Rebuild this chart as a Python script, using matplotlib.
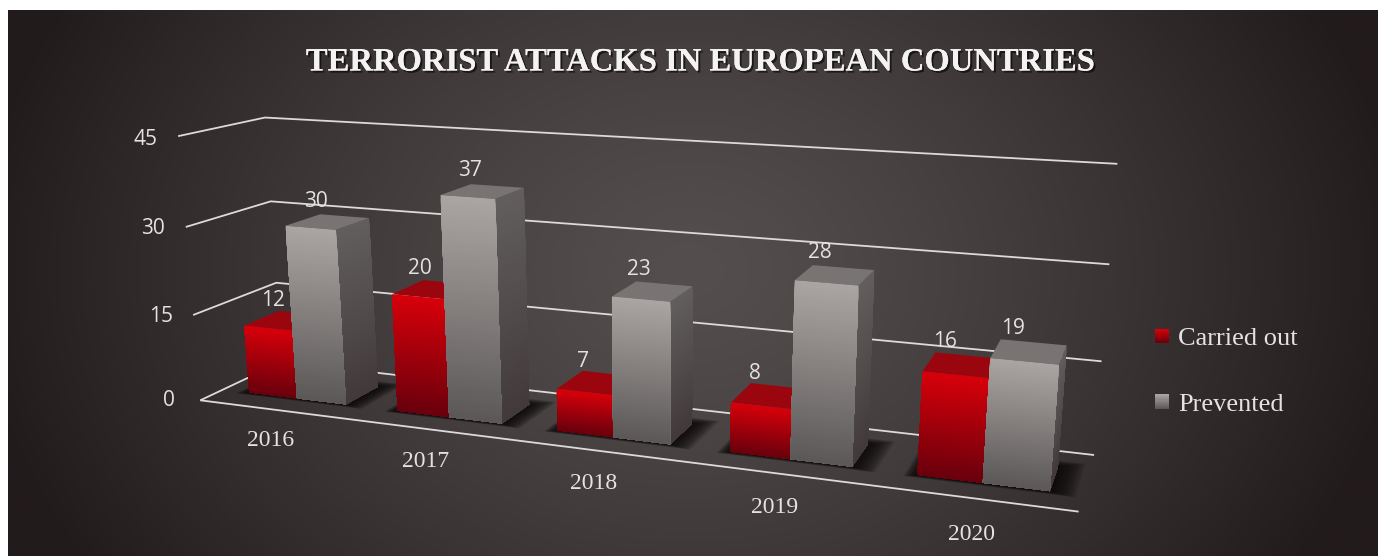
import numpy as np
import matplotlib
matplotlib.use("Agg")
import matplotlib.pyplot as plt
import matplotlib.patheffects as pe
from matplotlib.patches import Rectangle
from matplotlib.legend_handler import HandlerBase
from mpl_toolkits.mplot3d import proj3d
from mpl_toolkits.mplot3d.art3d import Poly3DCollection, Line3DCollection

years = ["2016", "2017", "2018", "2019", "2020"]
carried_out = [12, 20, 7, 8, 16]
prevented = [30, 37, 23, 28, 19]
value_ticks = [0, 15, 30, 45]

W, H = 1378, 556
SERIF = "Liberation Serif"
SANS = "Open Sans"
TXT = "#e4e2e2"

fig = plt.figure(figsize=(W / 100, H / 100), dpi=100, facecolor="white")

# background: radial gradient
bg = fig.add_axes([8 / W, 0, (W - 8) / W, (H - 10) / H])
bg.set_axis_off()
gx, gy = np.meshgrid(np.linspace(8, W, 400), np.linspace(10, H, 200))
rad = np.sqrt(((gx - 690) / 720) ** 2 + ((gy - 270) / 560) ** 2)
rad = np.clip(rad, 0, 1)[..., None] ** 1.3
c0, c1 = np.array([84, 78, 78]) / 255, np.array([34, 27, 28]) / 255
bg.imshow(c0 * (1 - rad) + c1 * rad, aspect="auto", interpolation="bilinear")

# 3D axes, square physical box that spans the figure width
ax = fig.add_axes([0, -(W - H) / 2 / H, 1, W / H], projection="3d", computed_zorder=False)
ax.set_axis_off()
ax.patch.set_alpha(0)
ax.set_autoscale_on(False)
ax.set_xlim(0, 5); ax.set_ylim(0, 1); ax.set_zlim(0, 45)
ax.apply_aspect()

# camera calibrated against the chart frame (category, depth, value) -> pixel
calib = [
    ((0, 0, 0), (200, 400)), ((5, 0, 0), (1079, 511)),
    ((0, 0, 15), (193, 315)), ((0, 0, 30), (186, 227)), ((0, 0, 45), (178, 137)),
    ((0, 1, 0), (282, 362)), ((0, 1, 15), (276, 283)), ((0, 1, 30), (271, 201)), ((0, 1, 45), (265, 117)),
    ((5, 1, 0), (1094, 455)), ((5, 1, 15), (1101, 362)), ((5, 1, 30), (1110, 265)), ((5, 1, 45), (1117, 163)),
]
inv = ax.transData.inverted()
rows = []
for (x, y, z), (u, v) in calib:
    a, b = inv.transform((u, H - v))
    rows.append([x, y, z, 1, 0, 0, 0, 0, -a * x, -a * y, -a * z, -a])
    rows.append([0, 0, 0, 0, x, y, z, 1, -b * x, -b * y, -b * z, -b])
scale = np.array([1 / 5, 1, 1 / 45, 1])
A = np.array(rows)
A[:, :4] *= scale; A[:, 4:8] *= scale; A[:, 8:] *= scale
P = np.linalg.svd(A)[2][-1].reshape(3, 4) * scale
P /= P[2, 3]
M = np.vstack([P[0], P[1], [0, 0, 0, 1], P[2]])
ax.get_proj = lambda: M

Y0, Y1 = 0.27, 0.70
LINE = "#dcdada"


def grad(top, bottom, n):
    t = np.linspace(0, 1, n)[..., None]
    return (np.array(top) * (1 - t) + np.array(bottom) * t) / 255


def add_poly(verts, color, zorder):
    pc = Poly3DCollection([verts], facecolors=[color], edgecolors="none", zorder=zorder)
    ax.add_collection3d(pc, autolim=False)


def label(x, y, z, s, **kw):
    px, py, _ = proj3d.proj_transform(x, y, z, M)
    ax.text2D(px, py, s, transform=ax.transData, color=TXT, ha="center", va="center", zorder=20, **kw)


def draw_bar(x0, x1, h, front, side, top, zorder, with_side=True):
    n = 60
    zs = np.linspace(h, 0, n + 1)
    cf = grad(front[0], front[1], n)
    cs = grad(side[0], side[1], n)
    add_poly([(x0, Y0, h), (x1, Y0, h), (x1, Y1, h), (x0, Y1, h)], np.array(top) / 255, zorder + 0.1)
    for i in range(n):
        # each band runs down to the floor; the next one paints over it
        add_poly([(x0, Y0, zs[i]), (x1, Y0, zs[i]), (x1, Y0, 0), (x0, Y0, 0)], cf[i], zorder + 0.2)
        if with_side:
            add_poly([(x1, Y0, zs[i]), (x1, Y1, zs[i]), (x1, Y1, 0), (x1, Y0, 0)], cs[i], zorder)


def draw_shadow(x0, x1):
    steps = 20
    for k in range(steps):
        g = (steps - k) / steps
        dx, dy = 0.13 * g, 0.2 * g
        verts = [(x0 - dx * 0.5, Y0 - dy * 0.25, 0), (x1 + dx, Y0 - dy * 0.25, 0), (x1 + dx, Y1 + dy * 0.6, 0), (x0 - dx * 0.5, Y1 + dy * 0.6, 0)]
        add_poly(verts, (0.05, 0.04, 0.04, 0.085), 3)


# grid
for v in value_ticks:
    ax.add_collection3d(Line3DCollection([[(0, 0, v), (0, 1, v), (5, 1, v)]], colors=LINE, linewidths=1.3, zorder=2), autolim=False)
    label(-0.225, 0, v - 0.8, str(v), fontsize=15, family=SANS)
ax.add_collection3d(Line3DCollection([[(0, 0, 0), (5, 0, 0)]], colors=LINE, linewidths=1.3, zorder=4), autolim=False)

RED = dict(front=((215, 0, 10), (105, 0, 12)), side=((110, 0, 10), (70, 0, 10)), top=(155, 6, 14))
GREY = dict(front=((170, 165, 162), (92, 88, 88)), side=((98, 94, 94), (66, 58, 58)), top=(120, 116, 116))

for i, yr in enumerate(years):
    xr = i + 0.18
    xm = i + 0.51
    xg = i + 0.84
    ylab = (Y0 + Y1) / 2 + 0.03
    draw_shadow(xr, xg)
    zb = 5 + i
    draw_bar(xr, xm, carried_out[i], zorder=zb, with_side=False, **RED)
    draw_bar(xm, xg, prevented[i], zorder=zb + 0.5, **GREY)
    label(xr + 0.07, ylab, carried_out[i] + 3.1, str(carried_out[i]), fontsize=15, family=SANS)
    label(xm + 0.075, ylab, prevented[i] + 3.1, str(prevented[i]), fontsize=15, family=SANS)
    label(i + 0.51, -0.07, -4.8, yr, fontsize=17, family=SERIF)

# title
fig.text(700 / W, 1 - 62 / H, "TERRORIST ATTACKS IN EUROPEAN COUNTRIES", color="#f4f2f2", fontsize=23.5, family=SERIF,
         fontweight="bold", ha="center", va="center",
         path_effects=[pe.withSimplePatchShadow(offset=(1.5, -1.5), shadow_rgbFace="black", alpha=0.6), pe.Normal()])


class GradientSwatch(HandlerBase):
    def __init__(self, top, bottom):
        super().__init__()
        self.top, self.bottom = top, bottom

    def create_artists(self, legend, orig, xd, yd, width, height, fontsize, trans):
        n = 14
        side = 10.5
        cs = grad(self.top, self.bottom, n)
        x0 = -xd
        y0 = -yd + (height - side) / 2
        return [Rectangle((x0, y0 + side * (n - 1 - k) / n), side, side / n + 0.2, facecolor=cs[k], edgecolor="none", transform=trans)
                for k in range(n)]


h_red = Rectangle((0, 0), 1, 1)
h_grey = Rectangle((0, 0), 1, 1)
fig.legend([h_red, h_grey], ["Carried out", "Prevented"], loc="center left",
           bbox_to_anchor=(1131 / W, 1 - 371.5 / H), frameon=False,
           labelcolor=TXT, prop={"family": SERIF, "size": 19}, handlelength=0.55, handletextpad=0.33, labelspacing=1.6,
           handler_map={h_red: GradientSwatch(*RED["front"]), h_grey: GradientSwatch(*GREY["front"])})

fig.savefig("out.png", dpi=100, facecolor="white")
